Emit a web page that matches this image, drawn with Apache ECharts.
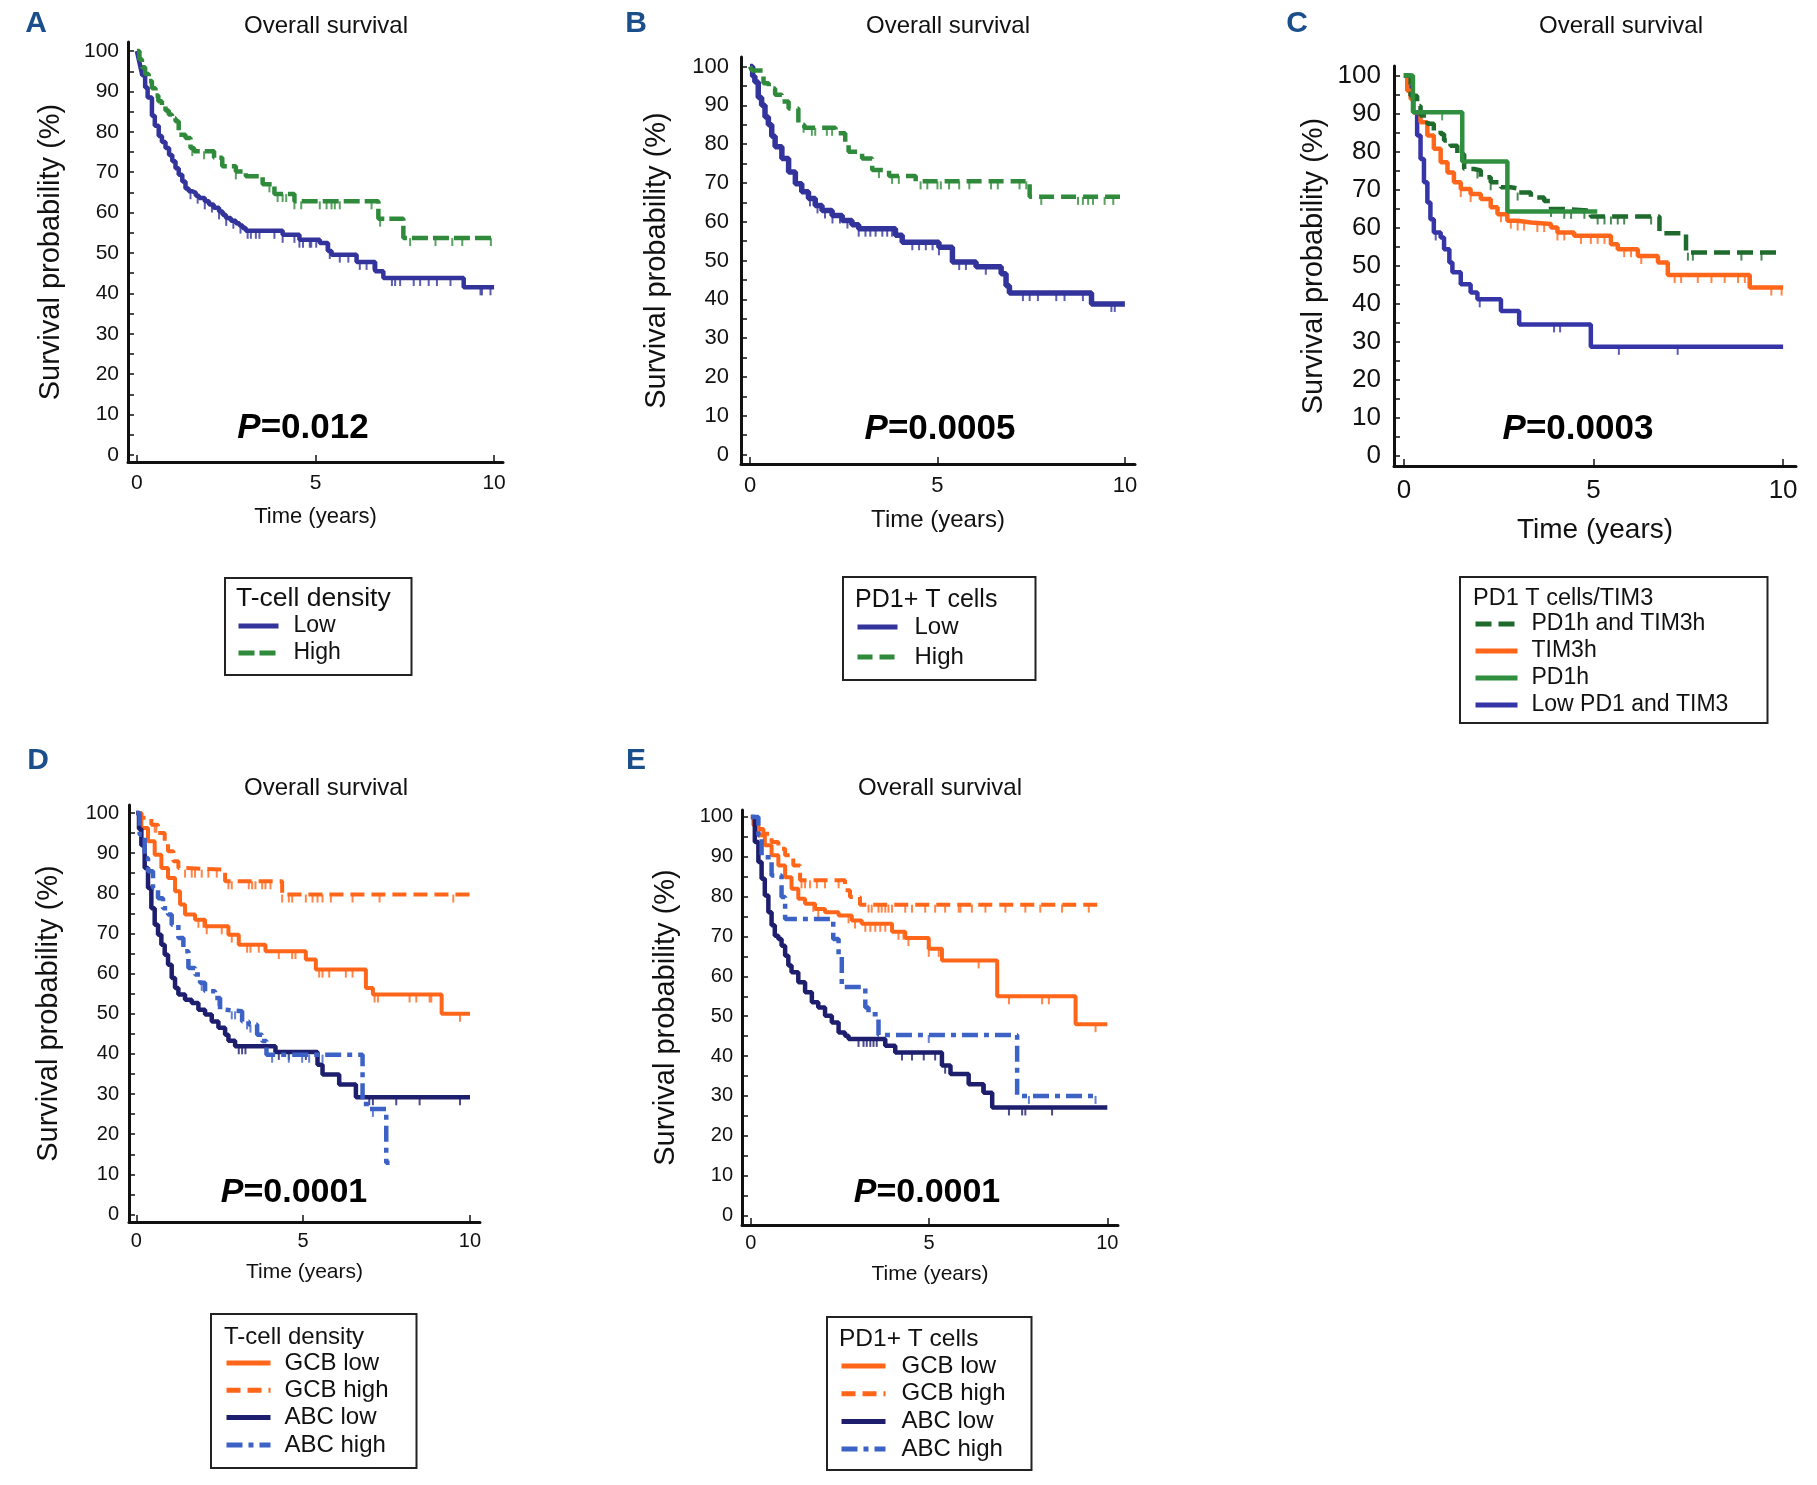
<!DOCTYPE html>
<html><head><meta charset="utf-8">
<script src="https://cdn.jsdelivr.net/npm/echarts@6/dist/echarts.min.js"></script>
<style>html,body{margin:0;padding:0;background:#fff}#c{width:1817px;height:1485px}</style>
</head><body><div id="c"></div>
<script>
// ---------------- DATA (time in years, survival %) ----------------
const xTicks = [0, 5, 10];
const yLabels = [0,10,20,30,40,50,60,70,80,90,100];
const yTicks = [0,5,10,15,20,25,30,35,40,45,50,55,60,65,70,75,80,85,90,95,100];
const panelTitle = 'Overall survival';
const xName = 'Time (years)';
const yName = 'Survival probability (%)';
const pValues = ['0.012','0.0005','0.0003','0.0001','0.0001'];

// Panel A: T-cell density
const aLow = [[0,100],[0.05,98],[0.1,96],[0.15,94],[0.23,91],[0.3,88.5],[0.42,84],[0.5,81.5],[0.61,79],[0.7,77.5],[0.8,76],[0.9,74.3],[0.99,72.7],[1.08,71],[1.17,69.4],[1.27,67.7],[1.36,66],[1.45,65.3],[1.55,64.9],[1.65,64.2],[1.74,63.6],[1.9,62.8],[2.02,62],[2.15,61.2],[2.3,60.3],[2.4,59.5],[2.49,58.7],[2.63,58],[2.77,57.4],[2.87,56.8],[2.96,56.2],[3.05,55.5],[4.08,54.5],[4.55,53.3],[5.12,52.5],[5.35,50.5],[5.45,49.6],[6.15,47.8],[6.67,45.5],[6.9,43.8],[9.15,41.5],[10,41.5]];
const aHigh = [[0,100],[0.07,98],[0.14,96],[0.23,94.3],[0.33,92.6],[0.42,90.8],[0.52,89],[0.6,87.6],[0.7,86.4],[0.8,85.3],[0.89,84.3],[0.98,83.4],[1.08,82.6],[1.17,79.3],[1.36,78.5],[1.5,76],[1.6,75.2],[2.16,73.6],[2.39,71.5],[2.77,70.2],[3.05,69],[3.52,67],[3.85,64.6],[4.41,62.8],[6.76,58.5],[7.46,53.7],[10,53.7]];
const aLowCens = [1.5,1.7,1.9,2.1,2.3,2.5,2.7,2.9,3.1,3.19,3.33,3.43,3.85,4.08,4.41,4.55,4.65,4.84,4.88,5.02,5.31,5.4,5.68,5.92,6.24,6.43,6.62,7.14,7.23,7.37,7.75,7.93,8.17,8.4,8.78,9.62,9.66,9.9];
const aHighCens = [1.55,1.88,2.77,3.71,3.94,4.08,4.18,4.41,4.6,5.12,5.31,5.45,5.54,5.68,6.57,6.81,7.65,8.36,8.83,9.11,9.91];

// Panel B: PD1+ T cells
const bLow = [[0,100],[0.07,97.5],[0.13,96],[0.22,92],[0.31,90],[0.4,87],[0.49,85],[0.58,82],[0.67,79.3],[0.85,76.3],[1.03,72.8],[1.21,69.8],[1.38,67.7],[1.56,66],[1.74,64.2],[1.92,62.9],[2.19,61.6],[2.46,60.3],[2.72,59.2],[2.9,58.2],[3.88,56.5],[4.06,54.7],[5.04,53.4],[5.4,49.6],[6.03,48.4],[6.7,46.6],[6.83,43.5],[6.92,41.6],[9.11,38.8],[10,38.8]];
const bHigh = [[0,100],[0.05,99],[0.36,95.7],[0.5,94.3],[0.67,92.7],[0.85,91],[1.03,89.2],[1.29,85],[1.45,84.2],[2.28,82.8],[2.54,79.7],[2.63,78],[2.99,76.3],[3.26,73.3],[3.71,71.8],[4.42,70.4],[7.46,66.4],[9.87,66.4]];
const bLowCens = [1.6,1.8,2.0,2.2,2.4,2.6,2.9,3.08,3.21,3.35,3.53,3.66,3.79,4.33,4.51,4.69,4.87,5.04,5.58,5.76,6.29,7.28,7.46,7.68,8.17,8.39,8.88,9.64,9.73];
const bHighCens = [1.43,1.65,1.74,2.05,2.19,3.44,3.79,3.97,4.55,4.73,5.0,5.09,5.31,5.58,5.85,6.43,6.61,7.19,7.37,7.77,8.75,8.88,9.02,9.15,9.46,9.69];

// Panel C: PD1 T cells / TIM3
const cBoth = [[0,100],[0.18,94.7],[0.35,92],[0.44,89.5],[0.62,87.3],[0.79,85.5],[0.97,84.6],[1.06,82.9],[1.23,81.5],[1.41,79.3],[1.59,75.4],[1.85,75],[2.03,73.2],[2.29,71.9],[2.56,70.6],[2.82,70.3],[3.0,69.2],[3.35,67.9],[3.7,67],[3.88,64.9],[4.23,64.4],[4.93,62.9],[6.74,58.5],[7.44,53.4],[9.87,53.4]];
const cTim3 = [[0,100],[0.09,96],[0.18,93.8],[0.26,90.3],[0.44,87.7],[0.62,84.2],[0.79,80.7],[0.97,77.2],[1.15,74.5],[1.32,71.9],[1.5,70.1],[1.76,68.8],[2.03,67.5],[2.29,65.3],[2.47,63.5],[2.73,61.8],[3.0,61.3],[3.35,60.9],[3.88,60],[4.05,58.7],[4.49,57.8],[5.46,55.6],[5.64,54.3],[6.17,52.5],[6.7,50.8],[6.96,47.5],[9.12,44.2],[10,44.2]];
const cPd1 = [[0,100],[0.24,90.3],[1.54,77.4],[2.73,64.2],[5.1,64.2]];
const cLow = [[0,100],[0.09,97],[0.18,94.7],[0.26,90.3],[0.35,84.2],[0.44,78],[0.53,71.9],[0.62,66.6],[0.7,62.2],[0.79,58.7],[0.97,57.4],[1.06,54.3],[1.2,50.8],[1.28,48.2],[1.5,45.1],[1.76,42.9],[1.94,41.1],[2.56,38],[3.04,34.5],[4.93,28.6],[10,28.6]];
const cBothCens = [1.94,2.29,3.0,3.88,4.23,4.41,4.76,5.11,5.29,5.46,5.64,5.81,6.52,7.49,7.62,8.9,9.43];
const cTim3Cens = [1.5,1.76,2.56,2.82,3.0,3.17,3.52,3.7,4.05,4.23,4.67,4.93,5.11,5.29,5.81,5.99,6.26,7.14,7.31,7.75,8.11,8.46,8.81,8.99,9.69,9.96];
const cPd1Cens = [1.01];
const cLowCens = [0.84,2.0,3.96,4.12,5.67,7.22];

// Panel D: T-cell density by COO
const dGcbLow = [[0,100],[0.15,96.3],[0.35,93],[0.55,89.6],[0.75,86.3],[0.95,83.8],[1.16,80.5],[1.31,77.2],[1.46,74.7],[1.76,73.4],[2.06,71.8],[2.76,69.7],[3.07,67.2],[3.87,65.6],[5.08,63.5],[5.38,61],[6.88,56.4],[7.09,54.8],[9.15,50],[10,50]];
const dGcbHigh = [[0,100],[0.15,98.8],[0.45,97.1],[0.65,95],[0.85,93],[0.95,90.5],[1.11,88],[1.26,86.3],[1.46,85.9],[2.66,83],[4.37,79.7],[10,79.7]];
const dAbcLow = [[0,100],[0.08,96],[0.15,92],[0.25,86.3],[0.35,81.3],[0.45,76.3],[0.55,72.2],[0.65,69.7],[0.75,67.2],[0.85,64.7],[0.95,62.2],[1.06,58.9],[1.16,56.4],[1.26,54.8],[1.46,53.5],[1.66,52.7],[1.86,51],[2.06,49.8],[2.26,48.1],[2.46,46.5],[2.66,44.8],[2.76,43.3],[2.96,41.9],[4.17,40.5],[5.43,37.3],[5.58,34.9],[6.08,32.4],[6.58,29.2],[10,29.2]];
const dAbcHigh = [[0,100],[0.1,94.6],[0.25,88.8],[0.35,85.5],[0.5,81.3],[0.65,78.8],[0.8,76.3],[0.95,74.7],[1.06,72.2],[1.26,68.9],[1.41,65.6],[1.56,61.4],[1.76,59.8],[1.91,57.7],[2.06,55.6],[2.36,53.9],[2.51,51],[2.66,50.6],[3.17,48.1],[3.37,47.3],[3.62,44.8],[3.77,43.2],[3.9,39.8],[6.78,27.5],[7.0,26.3],[7.49,12.9],[7.59,12.9]];
const dGcbLowCens = [1.86,2.01,2.11,2.56,2.86,3.32,3.42,3.67,4.27,4.67,4.77,5.48,5.58,5.78,6.28,6.48,7.14,7.24,8.19,8.39,8.79,8.84,9.7];
const dGcbHighCens = [0.55,0.6,1.46,1.66,1.76,1.96,2.16,2.41,2.76,2.86,3.37,3.47,3.57,3.77,3.87,4.02,4.37,4.57,4.67,5.08,5.28,5.43,5.58,5.83,6.48,7.29,9.5];
const dAbcLowCens = [3.07,3.17,3.27,4.27,4.57,5.08,6.98,7.09,7.79,8.49,9.7];
const dAbcHighCens = [1.96,2.46,2.86,2.96,3.32,3.42,4.07,4.57,4.97,5.18,5.58,7.09];

// Panel E: PD1+ T cells by COO
const eGcbLow = [[0,100],[0.07,97.9],[0.21,95.4],[0.39,92.9],[0.58,90.4],[0.77,87.8],[0.96,84.9],[1.14,82],[1.33,79.5],[1.52,78.2],[1.8,76.9],[2.08,76.1],[2.46,75.3],[2.83,74],[3.11,73.2],[3.96,71.2],[4.33,69.6],[4.99,66.9],[5.36,64],[6.91,55],[9.11,48],[10,48]];
const eGcbHigh = [[0,100],[0.11,97],[0.35,95.8],[0.58,93.7],[0.77,92],[0.96,90.4],[1.19,87.8],[1.38,84.1],[2.64,81.6],[2.78,79.9],[3.06,78],[9.86,78]];
const eAbcLow = [[0,100],[0.11,93.7],[0.21,88.7],[0.3,84.5],[0.39,80.3],[0.49,76.1],[0.58,72.8],[0.67,70.2],[0.77,69.4],[0.86,67.7],[0.96,65.2],[1.05,62.7],[1.14,61],[1.33,58.5],[1.52,56],[1.71,53.5],[1.89,52.2],[2.08,50.1],[2.27,48.4],[2.46,45.9],[2.64,45.1],[2.74,44.3],[3.77,42.6],[4.05,40.9],[5.36,37.6],[5.6,35.5],[6.11,32.9],[6.53,30.8],[6.77,27.1],[10,27.1]];
const eAbcHigh = [[0,100],[0.21,95.4],[0.3,89.9],[0.58,85.3],[0.86,79.9],[0.96,74.4],[2.31,69.4],[2.46,65.2],[2.55,57.3],[3.21,52.2],[3.3,50.5],[3.58,45.3],[7.47,30],[9.63,30]];
const eGcbLowCens = [1.75,1.89,2.74,2.92,3.21,3.35,3.49,3.63,3.77,4.14,4.28,4.42,4.99,5.27,6.39,7.24,8.17,8.36,9.67];
const eGcbHighCens = [1.42,1.52,1.66,1.85,2.08,2.46,3.3,3.39,3.58,3.67,3.77,3.86,3.96,4.33,4.52,4.89,5.17,5.45,5.83,5.88,6.2,6.58,7.14,7.7,8.12,8.73,9.48];
const eAbcLowCens = [3.02,3.16,3.25,3.35,3.44,3.53,4.24,4.52,4.85,5.17,5.45,6.49,7.24,7.61,7.7,8.45];
const eAbcHighCens = [4.99,7.8,9.67];

// Legend labels
const legendTitles = ['T-cell density','PD1+ T cells','PD1 T cells/TIM3','T-cell density','PD1+ T cells'];
const abLabels = ['Low','High'];
const cLabels = ['PD1h and TIM3h','TIM3h','PD1h','Low PD1 and TIM3'];
const deLabels = ['GCB low','GCB high','ABC low','ABC high'];

// ---------------- STYLE / LAYOUT ----------------
const FONT = '"Liberation Sans", Arial, Helvetica, sans-serif';
const BLUE = '#33339c', GREEN = '#2f8b3b', DKGREEN = '#1f6b2d', ORANGE = '#ff661a', NAVY = '#1e1e6e', LBLUE = '#3d62c6', CBLUE = '#3535a8', PGREEN = '#2f8f3f';

const layout = [
  {letter:'A', lx:36, ly:24, grid:{left:128, top:42, width:375, height:420}, xr:[-0.25,10.25], yr:[-1.75,102.25], tickFs:21, xm:11, ym:9, xnFs:22, xnGap:44, ynGap:63, tx:326, ty:26, px:303, py:428, pFs:35},
  {letter:'B', lx:636, ly:24, grid:{left:741, top:57, width:394, height:407}, xr:[-0.24,10.27], yr:[-2.45,102.45], tickFs:22, xm:11, ym:12, xnFs:24, xnGap:44, ynGap:70, tx:948, ty:26, px:940, py:429, pFs:35},
  {letter:'C', lx:1297, ly:24, grid:{left:1394, top:66, width:402, height:400}, xr:[-0.26,10.34], yr:[-2.76,102.5], tickFs:26, xm:12, ym:13, xnFs:28, xnGap:50, ynGap:66, tx:1621, ty:26, px:1578, py:429, pFs:35},
  {letter:'D', lx:38, ly:761, grid:{left:129, top:805, width:351, height:417}, xr:[-0.22,10.3], yr:[-1.87,102], tickFs:20, xm:9, ym:10, xnFs:21, xnGap:40, ynGap:66, tx:326, ty:788, px:294, py:1193, pFs:34},
  {letter:'E', lx:636, ly:761, grid:{left:742, top:810, width:376, height:415}, xr:[-0.25,10.3], yr:[-2.4,101.75], tickFs:20, xm:8, ym:9, xnFs:21, xnGap:39, ynGap:62, tx:940, ty:788, px:927, py:1193, pFs:34}
];

const legendLayout = [
  {left:225, top:578, itemW:40, textPad:10, textW:106, pad:[36,12,10,11], gap:3, lh:24, fs:23, tFs:26.5, tx:236, ty:599},
  {left:843, top:577, itemW:40, textPad:12, textW:108, pad:[37,13,10,12], gap:4, lh:26, fs:24, tFs:25, tx:855, ty:600},
  {left:1460, top:577, itemW:42, textPad:9, textW:223, pad:[35,13,6,13], gap:3, lh:24, fs:23, tFs:23.5, tx:1473, ty:599},
  {left:211, top:1314, itemW:44, textPad:9, textW:120, pad:[37,12,11,13], gap:3.3, lh:24, fs:24, tFs:24, tx:224, ty:1337},
  {left:827, top:1317, itemW:44, textPad:11, textW:118, pad:[37,12,9,12], gap:3.7, lh:24, fs:24, tFs:24.5, tx:839, ty:1339}
];

function survAt(data, t) {
  let v = data[0][1];
  for (const p of data) { if (p[0] <= t) v = p[1]; else break; }
  return v;
}

const series = [];
function km(panel, label, data, color, width, dash, z) {
  series.push({
    type:'line', name: panel + '|' + label, data: data, step:'end', symbol:'none', showSymbol:false,
    xAxisIndex: 'ABCDE'.indexOf(panel), yAxisIndex: 'ABCDE'.indexOf(panel),
    lineStyle:{color:color, width:width, type: dash || 'solid', cap:'butt'},
    itemStyle:{color:color}, animation:false, silent:true, z: z || 2
  });
}
function cens(panel, data, times, color, z) {
  series.push({
    type:'scatter', name: panel + '|cens', data: times.map(t => [t, survAt(data, t)]),
    symbol:'rect', symbolSize:[2, 8], symbolOffset:[0, 4],
    xAxisIndex: 'ABCDE'.indexOf(panel), yAxisIndex: 'ABCDE'.indexOf(panel),
    itemStyle:{color:color}, animation:false, silent:true, z: z || 2
  });
}

// A
km('A', abLabels[0], aLow, BLUE, 4.5, null, 3); cens('A', aLow, aLowCens, BLUE, 3);
km('A', abLabels[1], aHigh, GREEN, 4.5, [16,5], 4); cens('A', aHigh, aHighCens, GREEN, 4);
// B
km('B', abLabels[0], bLow, BLUE, 5.5, null, 3); cens('B', bLow, bLowCens, BLUE, 3);
km('B', abLabels[1], bHigh, GREEN, 4.5, [15,7], 4); cens('B', bHigh, bHighCens, GREEN, 4);
// C
km('C', cLabels[3], cLow, CBLUE, 4.5, null, 3); cens('C', cLow, cLowCens, CBLUE, 3);
km('C', cLabels[1], cTim3, ORANGE, 4.5, null, 4); cens('C', cTim3, cTim3Cens, ORANGE, 4);
km('C', cLabels[0], cBoth, DKGREEN, 4.5, [16,7], 5); cens('C', cBoth, cBothCens, DKGREEN, 5);
km('C', cLabels[2], cPd1, PGREEN, 4.5, null, 6); cens('C', cPd1, cPd1Cens, PGREEN, 6);
// D
km('D', deLabels[0], dGcbLow, ORANGE, 4, null, 3); cens('D', dGcbLow, dGcbLowCens, ORANGE, 3);
km('D', deLabels[1], dGcbHigh, ORANGE, 4, [14,7], 3); cens('D', dGcbHigh, dGcbHighCens, ORANGE, 3);
km('D', deLabels[2], dAbcLow, NAVY, 4.5, null, 4); cens('D', dAbcLow, dAbcLowCens, NAVY, 4);
km('D', deLabels[3], dAbcHigh, LBLUE, 4.5, [16,6,5,6], 5); cens('D', dAbcHigh, dAbcHighCens, LBLUE, 5);
// E
km('E', deLabels[0], eGcbLow, ORANGE, 4, null, 3); cens('E', eGcbLow, eGcbLowCens, ORANGE, 3);
km('E', deLabels[1], eGcbHigh, ORANGE, 4, [14,7], 3); cens('E', eGcbHigh, eGcbHighCens, ORANGE, 3);
km('E', deLabels[2], eAbcLow, NAVY, 4.5, null, 4); cens('E', eAbcLow, eAbcLowCens, NAVY, 4);
km('E', deLabels[3], eAbcHigh, LBLUE, 4.5, [16,6,5,6], 5); cens('E', eAbcHigh, eAbcHighCens, LBLUE, 5);

const grids = [], xAxes = [], yAxes = [], graphics = [];
layout.forEach((L, i) => {
  grids.push(Object.assign({containLabel:false}, L.grid));
  xAxes.push({
    type:'value', gridIndex:i, min:L.xr[0], max:L.xr[1],
    axisLine:{show:true, onZero:false, lineStyle:{color:'#111', width:3}},
    axisTick:{show:true, inside:true, length:7, customValues:xTicks, lineStyle:{color:'#111', width:1.5}},
    axisLabel:{customValues:xTicks, fontSize:L.tickFs, color:'#111', fontFamily:FONT, margin:L.xm},
    splitLine:{show:false},
    name:xName, nameLocation:'middle', nameGap:L.xnGap,
    nameTextStyle:{fontSize:L.xnFs, color:'#111', fontFamily:FONT}
  });
  yAxes.push({
    type:'value', gridIndex:i, min:L.yr[0], max:L.yr[1],
    axisLine:{show:true, onZero:false, lineStyle:{color:'#111', width:3}},
    axisTick:{show:true, inside:true, length:6, customValues:yTicks, lineStyle:{color:'#111', width:1.5}},
    axisLabel:{customValues:yLabels, fontSize:L.tickFs, color:'#111', fontFamily:FONT, margin:L.ym},
    splitLine:{show:false},
    name:yName, nameLocation:'middle', nameGap:L.ynGap,
    nameTextStyle:{fontSize:29, color:'#111', fontFamily:FONT}
  });
  graphics.push({type:'text', x:L.lx, y:L.ly, silent:true,
    style:{text:L.letter, fontSize:30, fontWeight:'bold', fontFamily:FONT, fill:'#1b4f8c', align:'center', verticalAlign:'middle'}});
  graphics.push({type:'text', x:L.tx, y:L.ty, silent:true,
    style:{text:panelTitle, fontSize:24, fontFamily:FONT, fill:'#111', align:'center', verticalAlign:'middle'}});
  graphics.push({type:'text', x:L.px, y:L.py, silent:true, z:10,
    style:{text:'{i|P}{n|=' + pValues[i] + '}', align:'center', verticalAlign:'middle',
      rich:{i:{fontSize:L.pFs, fontWeight:'bold', fontStyle:'italic', fontFamily:FONT, fill:'#000'},
            n:{fontSize:L.pFs, fontWeight:'bold', fontFamily:FONT, fill:'#000'}}}});
});

const legendData = [
  abLabels.map(n => 'A|' + n),
  abLabels.map(n => 'B|' + n),
  cLabels.map(n => 'C|' + n),
  deLabels.map(n => 'D|' + n),
  deLabels.map(n => 'E|' + n)
];
const legends = legendLayout.map((G, i) => {
  graphics.push({type:'text', x:G.tx, y:G.ty, silent:true, z:10,
    style:{text:legendTitles[i], fontSize:G.tFs, fontFamily:FONT, fill:'#111', align:'left', verticalAlign:'middle'}});
  return {
    orient:'vertical', left:G.left, top:G.top, data:legendData[i],
    itemWidth:G.itemW, itemHeight:14, itemGap:G.gap, padding:G.pad,
    borderColor:'#222', borderWidth:2, selectedMode:false,
    formatter: n => n.split('|')[1],
    textStyle:{fontSize:G.fs, fontFamily:FONT, color:'#111', lineHeight:G.lh, width:G.textW, padding:[0,0,0,G.textPad]},
    itemStyle:{opacity:0, color:'rgba(0,0,0,0)', borderWidth:0},
    lineStyle:{width:5}
  };
});

const chart = echarts.init(document.getElementById('c'), null, {renderer:'canvas'});
chart.setOption({
  backgroundColor:'#ffffff',
  animation:false,
  grid: grids, xAxis: xAxes, yAxis: yAxes,
  legend: legends, series: series, graphic: graphics
});
</script>
</body></html>
